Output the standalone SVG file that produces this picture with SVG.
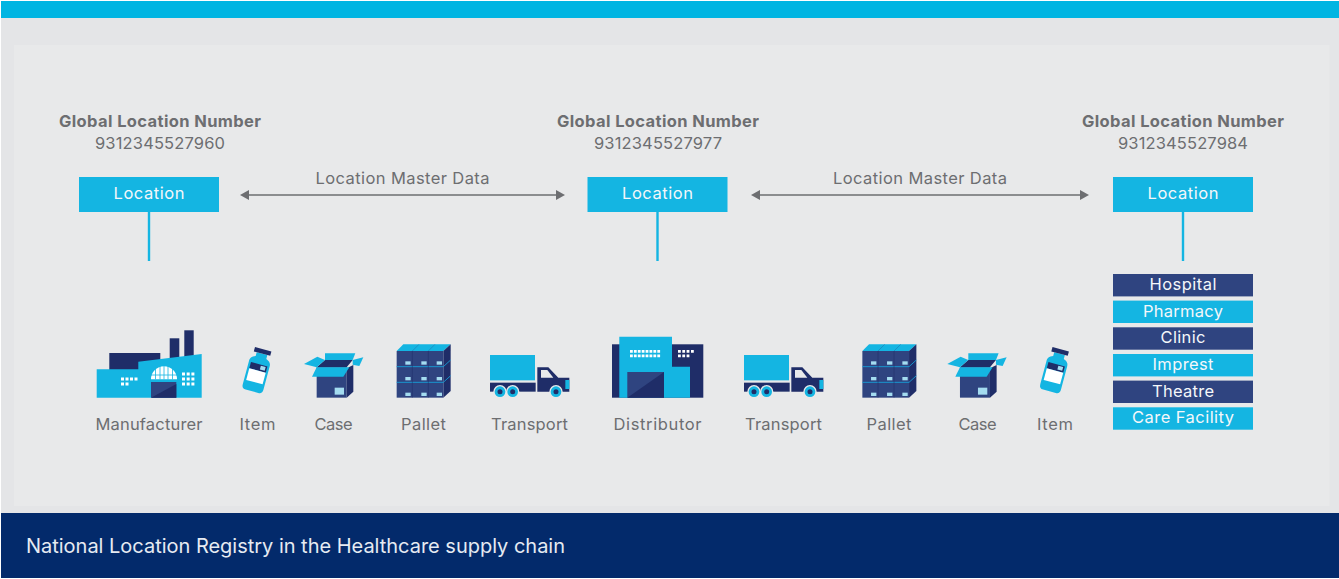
<svg xmlns="http://www.w3.org/2000/svg" xmlns:xlink="http://www.w3.org/1999/xlink" width="1339" height="579" viewBox="0 0 1339 579">
<style>
text{font-family:"Inter","Open Sans","Liberation Sans",sans-serif}
.g{fill:#6d6e71;font-size:16.5px;text-anchor:middle}
.b{font-weight:700}
.w{fill:#f4f7fa;font-size:16.5px;text-anchor:middle}
.c{fill:#14b5e2}.d{fill:#1f2d68}.m{fill:#2f4480}.l{fill:#a4dcf0}.v{fill:#fff}.t{fill:#0f9fd0}.n{fill:#2f4480}
.conn{stroke:#6d6e71;stroke-width:1.3;fill:none}
.v-line{stroke:#14b5e2;stroke-width:2.4;fill:none}
</style>
<defs>
<marker id="ah" markerUnits="userSpaceOnUse" markerWidth="9" markerHeight="10" refX="1" refY="5" orient="auto-start-reverse"><path d="M9 0L0 5L9 10Z" fill="#6d6e71" transform="rotate(180 4.5 5)"/></marker>
<g id="bottle">
<path class="c" d="M-5.5-17.5H5.5V-13.5C9.500-12 10.700-10 10.700-7V17Q10.700 21.500 6.500 21.500H-6.500Q-10.700 21.500-10.700 17V-7C-10.700-10-9.500-12-5.500-13.500Z"/>
<rect class="d" x="-8.500" y="-22" width="17" height="4.500"/>
<rect class="d" x="-8.500" y="-6.500" width="17" height="6.500"/>
<rect class="v" x="-8.500" y="0" width="17" height="12"/>
<rect class="l" x="2" y="-5.500" width="5" height="3.800"/>
</g>
<g id="box" transform="scale(.33333)">
<path class="n" d="M710 142H800V233H710Z"/>
<path class="d" d="M800 233L820 215V135L800 145Z"/>
<path class="d" d="M735 120H818L800 142H710Z"/>
<path class="c" d="M735 100H826L818 120H735Z"/>
<path class="c" d="M672 132L712 110L735 120L710 142Z"/>
<path class="c" d="M818 120L850 112L838 138L818 134Z"/>
<path class="c" d="M710 142H808L790 170H696Z"/>
<rect class="l" x="764" y="203" width="28" height="21"/>
</g>
<g id="pallet" transform="scale(.33333)">
<path class="c" d="M50 93L70 73H212L190 93Z"/>
<path d="M97 93L117 73M145 93L165 73" stroke="#1f7fb8" stroke-width="2"/>
<path class="d" d="M190 93L212 73V213L190 233Z"/>
<rect class="m" x="50" y="93" width="140" height="140"/>
<path d="M50 140H190L212 120M50 187H190L212 167" stroke="#14a5dc" stroke-width="2.500" fill="none"/>
<path d="M97 93V233M145 93V233" stroke="#1f2d68" stroke-width="1.500"/>
<g class="l"><rect x="76" y="124" width="16" height="10"/><rect x="124" y="124" width="16" height="10"/><rect x="170" y="124" width="16" height="10"/><rect x="76" y="171" width="16" height="10"/><rect x="124" y="171" width="16" height="10"/><rect x="170" y="171" width="16" height="10"/><rect x="76" y="218" width="16" height="10"/><rect x="124" y="218" width="16" height="10"/><rect x="170" y="218" width="16" height="10"/></g>
</g>
<g id="truck" transform="scale(.33333)">
<rect class="c" x="330" y="105" width="135" height="76"/>
<rect class="d" x="330" y="188" width="137" height="27"/>
<path class="d" d="M472 142H505L535 173H568V215H472Z"/>
<path d="M483 150H502L520 173H483Z" fill="#e8e9ea"/>
<rect class="c" x="556" y="180" width="12" height="27"/>
<g fill="#e8e9ea"><circle cx="360" cy="215" r="20"/><circle cx="398" cy="215" r="20"/><circle cx="528" cy="215" r="20"/></g>
<g class="c"><circle cx="360" cy="215" r="16"/><circle cx="398" cy="215" r="16"/><circle cx="528" cy="215" r="16"/></g>
<g class="d"><circle cx="360" cy="215" r="7.500"/><circle cx="398" cy="215" r="7.500"/><circle cx="528" cy="215" r="7.500"/></g>
</g>
</defs>
<rect width="1339" height="579" fill="#fff"/>
<rect x="1" y="18" width="1338" height="496" fill="#e4e5e7"/>
<rect x="14" y="45" width="1315.500" height="461" fill="#e8e9ea"/>
<rect x="1" y="1" width="1338" height="17" fill="#00b5e2"/>
<rect x="1" y="513" width="1338" height="65" fill="#032a6b"/>
<text id="caption" x="26" y="552.500" fill="#e6ebf2" font-size="20" textLength="539" lengthAdjust="spacing">National Location Registry in the Healthcare supply chain</text>

<g id="connectors">
<line class="conn" x1="248" y1="195" x2="557" y2="195" marker-start="url(#ah)" marker-end="url(#ah)"/>
<line class="conn" x1="759" y1="195" x2="1081" y2="195" marker-start="url(#ah)" marker-end="url(#ah)"/>
<line class="v-line" x1="149" y1="212" x2="149" y2="261"/>
<line class="v-line" x1="657.500" y1="212" x2="657.500" y2="261"/>
<line class="v-line" x1="1183" y1="212" x2="1183" y2="261"/>
<text class="g" x="402.500" y="184" textLength="174" lengthAdjust="spacing">Location Master Data</text>
<text class="g" x="920" y="184" textLength="174" lengthAdjust="spacing">Location Master Data</text>
</g>

<g id="loc1">
<text class="g b" x="160" y="126.500" textLength="202" lengthAdjust="spacing">Global Location Number</text>
<text class="g" x="160" y="148.500" textLength="130" lengthAdjust="spacing">9312345527960</text>
<rect class="c" x="79" y="177" width="140" height="35"/>
<text class="w" x="149" y="199" textLength="71" lengthAdjust="spacing">Location</text>
</g>
<g id="loc2">
<text class="g b" x="658" y="126.500" textLength="202" lengthAdjust="spacing">Global Location Number</text>
<text class="g" x="658" y="148.500" textLength="128" lengthAdjust="spacing">9312345527977</text>
<rect class="c" x="587.500" y="177" width="140" height="35"/>
<text class="w" x="657.500" y="199" textLength="71" lengthAdjust="spacing">Location</text>
</g>
<g id="loc3">
<text class="g b" x="1183" y="126.500" textLength="202" lengthAdjust="spacing">Global Location Number</text>
<text class="g" x="1183" y="148.500" textLength="130" lengthAdjust="spacing">9312345527984</text>
<rect class="c" x="1113" y="177" width="140" height="35"/>
<text class="w" x="1183" y="199" textLength="71" lengthAdjust="spacing">Location</text>
</g>

<g id="manufacturer">
<rect class="d" x="169.700" y="338.300" width="9.600" height="20"/>
<rect class="d" x="184.300" y="330.300" width="9.400" height="28"/>
<rect class="d" x="109.300" y="353" width="51" height="20"/>
<path class="c" d="M96.700 369.300H138.300V361.700L201.700 354V397.700H96.700Z"/>
<path class="v" d="M151 379.300A13 13 0 0 1 177 379.300Z"/>
<path d="M155.500 366V379.300M160 366V379.300M164 366V379.300M168 366V379.300M172.500 366V379.300M151 375H177" stroke="#14b5e2" stroke-width=".8"/>
<rect class="m" x="151" y="382" width="25.300" height="15.700"/>
<path class="d" d="M151 397.700L176.300 384V397.700Z"/>
<path class="v" d="M121 377.500h3v3h-3zM125.500 377.500h3v3h-3zM130 377.500h3v3h-3zM134.500 377.500h3v3h-3zM121 382.500h3v3h-3zM125.500 382.500h3v3h-3zM182 372.500h3v3h-3zM186.700 372.500h3v3h-3zM191.400 372.500h3v3h-3zM182 377.500h3v3h-3zM186.700 377.500h3v3h-3zM191.400 377.500h3v3h-3zM182 382.500h3v3h-3zM186.700 382.500h3v3h-3zM191.400 382.500h3v3h-3z"/>
<text class="g" x="149" y="430" textLength="107" lengthAdjust="spacing">Manufacturer</text>
</g>
<g id="item1">
<use href="#bottle" transform="translate(257.500 370.500) rotate(15)"/>
<text class="g" x="257.500" y="430" textLength="36" lengthAdjust="spacing">Item</text>
</g>
<g id="case1">
<use href="#box" transform="translate(80 320)"/>
<text class="g" x="333.500" y="430" textLength="38" lengthAdjust="spacing">Case</text>
</g>
<g id="pallet1">
<use href="#pallet" transform="translate(380 320)"/>
<text class="g" x="423.500" y="430" textLength="45" lengthAdjust="spacing">Pallet</text>
</g>
<g id="transport1">
<use href="#truck" transform="translate(380 320)"/>
<text class="g" x="529.500" y="430" textLength="77" lengthAdjust="spacing">Transport</text>
</g>
<g id="distributor">
<rect class="d" x="612" y="344.300" width="91.300" height="53.400"/>
<path class="c" d="M619.300 336.700H672V366.700H690V397.700H619.300Z"/>
<rect class="m" x="627.300" y="372" width="36.700" height="25.700"/>
<path class="d" d="M627.300 397.700L664 372V397.700Z"/>
<path class="v" d="M630 350h2.800v2.800h-2.800zM633.900 350h2.800v2.800h-2.800zM637.800 350h2.800v2.800h-2.800zM641.700 350h2.800v2.800h-2.800zM645.600 350h2.800v2.800h-2.800zM649.500 350h2.800v2.800h-2.800zM653.400 350h2.800v2.800h-2.800zM657.300 350h2.800v2.800h-2.800zM630 354.500h2.800v2.800h-2.800zM633.900 354.500h2.800v2.800h-2.800zM637.800 354.500h2.800v2.800h-2.800zM641.700 354.500h2.800v2.800h-2.800zM645.600 354.500h2.800v2.800h-2.800zM649.500 354.500h2.800v2.800h-2.800zM653.400 354.500h2.800v2.800h-2.800zM657.300 354.500h2.800v2.800h-2.800zM678 350h2.800v2.800h-2.800zM682.300 350h2.800v2.800h-2.800zM686.600 350h2.800v2.800h-2.800zM691 350h2.800v2.800h-2.800zM678 354.500h2.800v2.800h-2.800zM682.300 354.500h2.800v2.800h-2.800zM686.600 354.500h2.800v2.800h-2.800z"/>
<text class="g" x="657.500" y="430" textLength="88" lengthAdjust="spacing">Distributor</text>
</g>
<g id="transport2">
<use href="#truck" transform="translate(634 320)"/>
<text class="g" x="783.500" y="430" textLength="77" lengthAdjust="spacing">Transport</text>
</g>
<g id="pallet2">
<use href="#pallet" transform="translate(845.700 320)"/>
<text class="g" x="889" y="430" textLength="45" lengthAdjust="spacing">Pallet</text>
</g>
<g id="case2">
<use href="#box" transform="translate(723.300 320)"/>
<text class="g" x="977.500" y="430" textLength="38" lengthAdjust="spacing">Case</text>
</g>
<g id="item2">
<use href="#bottle" transform="translate(1055 370.500) rotate(15)"/>
<text class="g" x="1055" y="430" textLength="36" lengthAdjust="spacing">Item</text>
</g>

<g id="hospital"><rect class="m" x="1113" y="274" width="140" height="22.400"/><text class="w" x="1183" y="290" textLength="67" lengthAdjust="spacing">Hospital</text></g>
<g id="pharmacy"><rect class="c" x="1113" y="300.600" width="140" height="22.400"/><text class="w" x="1183" y="316.600" textLength="80" lengthAdjust="spacing">Pharmacy</text></g>
<g id="clinic"><rect class="m" x="1113" y="327.300" width="140" height="22.400"/><text class="w" x="1183" y="343.300" textLength="45" lengthAdjust="spacing">Clinic</text></g>
<g id="imprest"><rect class="c" x="1113" y="354" width="140" height="22.400"/><text class="w" x="1183" y="370" textLength="61" lengthAdjust="spacing">Imprest</text></g>
<g id="theatre"><rect class="m" x="1113" y="380.600" width="140" height="22.400"/><text class="w" x="1183" y="396.600" textLength="62" lengthAdjust="spacing">Theatre</text></g>
<g id="care-facility"><rect class="c" x="1113" y="407.300" width="140" height="22.400"/><text class="w" x="1183" y="423.300" textLength="102" lengthAdjust="spacing">Care Facility</text></g>
</svg>
